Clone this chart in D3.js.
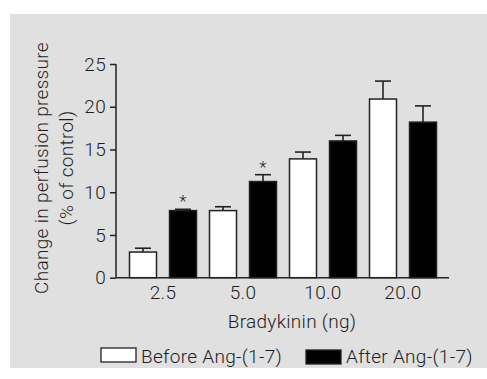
<!DOCTYPE html>
<html>
<head>
<meta charset="utf-8">
<script src="https://cdn.jsdelivr.net/npm/d3@7"></script>
<style>
  html, body { margin: 0; padding: 0; background: #fff; }
  svg { display: block; }
  text { font-family: Roboto, "Liberation Sans", sans-serif; font-weight: 300; fill: #1e1e1e; letter-spacing: 0.3px; }
</style>
</head>
<body>
<div id="chart"></div>
<script>
// values
const doses = ['2.5', '5.0', '10.0', '20.0'];
const before = [3.0, 7.85, 13.9, 20.9];
const beforeErr = [0.45, 0.45, 0.8, 2.1];
const after = [7.85, 11.25, 16.0, 18.2];
const afterErr = [0.15, 0.8, 0.65, 1.9];
const significant = [true, true, false, false];
const yTicks = [0, 5, 10, 15, 20, 25];

const width = 487, height = 379;
const margin = { top: 64, left: 116, right: 449, bottom: 277.7 };
const fontSize = 19;

const svg = d3.select('#chart').append('svg')
  .attr('width', width)
  .attr('height', height);

svg.append('rect')
  .attr('x', 10).attr('y', 14)
  .attr('width', width - 10).attr('height', 354)
  .attr('fill', '#e0e0e0');

const yScale = d3.scaleLinear().domain([0, 25]).range([margin.bottom, margin.top]);
const x0 = d3.scaleBand().domain(doses).range([123, 443]).paddingInner(0).paddingOuter(0);
const x1 = d3.scaleBand().domain(['before', 'after']).range([0, x0.bandwidth()])
  .paddingInner(0.325).paddingOuter(0.1625);

const data = doses.map((d, i) => ({
  dose: d,
  bars: [
    { key: 'before', value: before[i], err: beforeErr[i] },
    { key: 'after', value: after[i], err: afterErr[i] }
  ],
  sig: significant[i]
}));

const groups = svg.selectAll('.group')
  .data(data)
  .enter()
  .append('g')
  .attr('transform', d => `translate(${x0(d.dose)},0)`);

// error bars (upper only)
groups.selectAll('.err')
  .data(d => d.bars)
  .enter()
  .append('g')
  .each(function (b) {
    const g = d3.select(this);
    const cx = x1(b.key) + x1.bandwidth() / 2;
    g.append('line')
      .attr('x1', cx).attr('x2', cx)
      .attr('y1', yScale(b.value)).attr('y2', yScale(b.value + b.err))
      .attr('stroke', '#222').attr('stroke-width', 1.6);
    g.append('line')
      .attr('x1', cx - 8).attr('x2', cx + 8)
      .attr('y1', yScale(b.value + b.err)).attr('y2', yScale(b.value + b.err))
      .attr('stroke', '#222').attr('stroke-width', 1.6);
  });

groups.selectAll('.bar')
  .data(d => d.bars)
  .enter()
  .append('rect')
  .attr('x', b => x1(b.key))
  .attr('y', b => yScale(b.value))
  .attr('width', x1.bandwidth())
  .attr('height', b => yScale(0) - yScale(b.value))
  .attr('fill', b => b.key === 'before' ? '#fff' : '#000')
  .attr('stroke', '#222')
  .attr('stroke-width', 1.5);

groups.filter(d => d.sig)
  .append('text')
  .attr('x', x1('after') + x1.bandwidth() / 2)
  .attr('y', d => yScale(d.bars[1].value + d.bars[1].err) - 2)
  .attr('text-anchor', 'middle')
  .attr('font-size', 17)
  .text('*');

// axes
const yAxis = svg.append('g')
  .attr('transform', `translate(${margin.left},0)`)
  .call(d3.axisLeft(yScale).tickValues(yTicks).tickSize(6).tickPadding(4));
yAxis.select('.domain').attr('d', `M-0,${yScale(25)}V${yScale(0)}`);

const xAxis = svg.append('g')
  .attr('transform', `translate(0,${yScale(0)})`)
  .call(d3.axisBottom(x0).tickSize(0).tickPadding(8));
xAxis.select('.domain').attr('d', `M${margin.left},0H${margin.right}`);

svg.selectAll('.domain, .tick line').attr('stroke', '#222').attr('stroke-width', 1.5);
svg.selectAll('.tick text').attr('font-size', fontSize).attr('fill', '#1e1e1e')
  .style('font-family', 'Roboto, "Liberation Sans", sans-serif');

// axis titles
svg.append('text')
  .attr('transform', 'translate(48,168) rotate(-90)')
  .attr('text-anchor', 'middle')
  .attr('font-size', fontSize)
  .text('Change in perfusion pressure');
svg.append('text')
  .attr('transform', 'translate(73,168) rotate(-90)')
  .attr('text-anchor', 'middle')
  .attr('font-size', fontSize)
  .text('(% of control)');

svg.append('text')
  .attr('x', 292).attr('y', 328)
  .attr('text-anchor', 'middle')
  .attr('font-size', fontSize)
  .text('Bradykinin (ng)');

// legend
const legend = [
  { label: 'Before Ang-(1-7)', fill: '#fff', x: 101, y: 348 },
  { label: 'After Ang-(1-7)', fill: '#000', x: 306, y: 350 }
];
legend.forEach(l => {
  svg.append('rect')
    .attr('x', l.x).attr('y', l.y)
    .attr('width', 35).attr('height', 14)
    .attr('fill', l.fill)
    .attr('stroke', '#222').attr('stroke-width', 1.3);
  svg.append('text')
    .attr('x', l.x + 40).attr('y', 363)
    .attr('font-size', fontSize)
    .text(l.label);
});
</script>
</body>
</html>
